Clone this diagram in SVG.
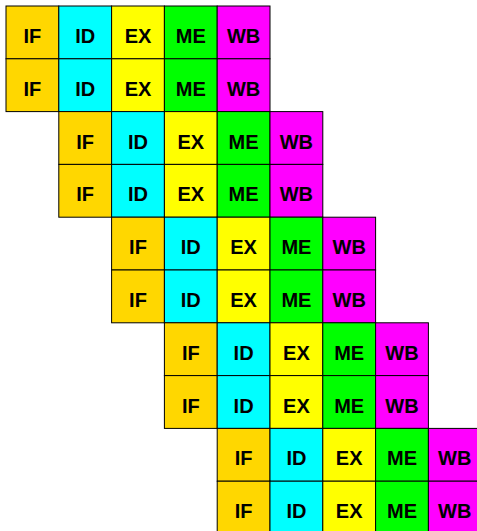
<svg xmlns="http://www.w3.org/2000/svg" width="477" height="531" viewBox="0 0 477 531">
<style>
rect{stroke:#000;stroke-width:1;width:52.8px;height:52.8px}
.if{fill:#FFD700}.id{fill:#00FFFF}.ex{fill:#FFFF00}.me{fill:#00FF00}.wb{fill:#FF00FF}
text{font-family:"Liberation Sans",Arial,sans-serif;font-weight:bold;font-size:20px;text-anchor:middle;fill:#000}
</style>
<defs>
<g id="stages">
<rect class="if" x="0" y="0" width="52.8" height="52.8"/>
<rect class="id" x="52.8" y="0" width="52.8" height="52.8"/>
<rect class="ex" x="105.6" y="0" width="52.8" height="52.8"/>
<rect class="me" x="158.4" y="0" width="52.8" height="52.8"/>
<rect class="wb" x="211.2" y="0" width="52.8" height="52.8"/>
<text x="26.4" y="37">IF</text>
<text x="79.2" y="37">ID</text>
<text x="132" y="37">EX</text>
<text x="184.8" y="37">ME</text>
<text x="237.6" y="37">WB</text>
</g>
</defs>
<rect x="0" y="0" width="477" height="531" style="fill:#fff;stroke:none;width:477px;height:531px"/>
<g id="instr1" transform="translate(6,6)"><use href="#stages"/></g>
<g id="instr2" transform="translate(6,58.8)"><use href="#stages"/></g>
<g id="instr3" transform="translate(58.8,111.6)"><use href="#stages"/></g>
<g id="instr4" transform="translate(58.8,164.4)"><use href="#stages"/></g>
<g id="instr5" transform="translate(111.6,217.2)"><use href="#stages"/></g>
<g id="instr6" transform="translate(111.6,270)"><use href="#stages"/></g>
<g id="instr7" transform="translate(164.4,322.8)"><use href="#stages"/></g>
<g id="instr8" transform="translate(164.4,375.6)"><use href="#stages"/></g>
<g id="instr9" transform="translate(217.2,428.4)"><use href="#stages"/></g>
<g id="instr10" transform="translate(217.2,481.2)"><use href="#stages"/></g>
<g id="connectors"/>
</svg>
